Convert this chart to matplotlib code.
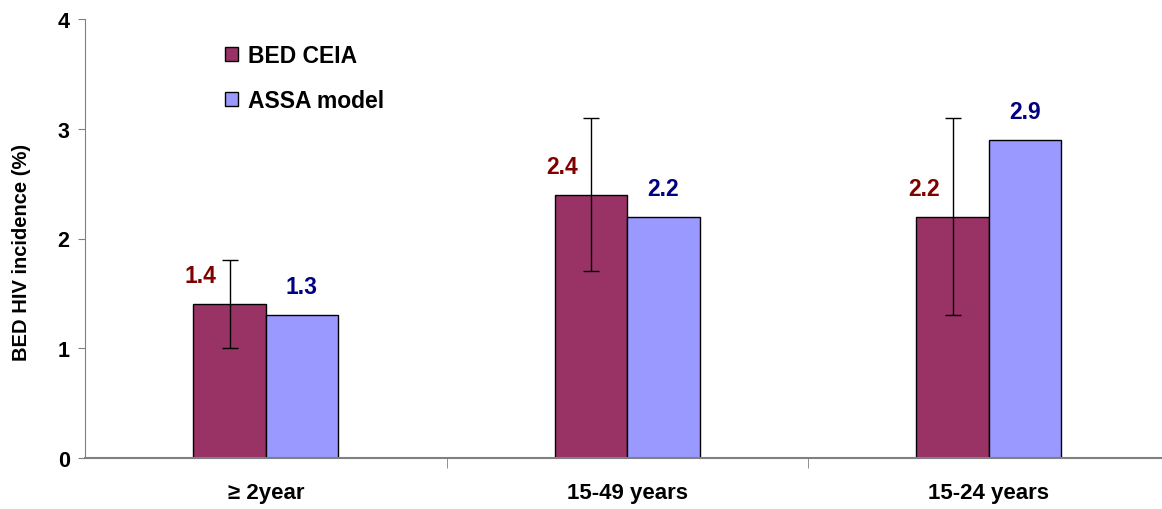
import matplotlib.pyplot as plt
import numpy as np
from matplotlib.patches import Patch

plt.rcParams['font.family'] = ['Liberation Sans', 'DejaVu Sans']
plt.rcParams['font.weight'] = 'bold'

categories = ["\u2265 2year", "15-49 years", "15-24 years"]
bed_ceia = [1.4, 2.4, 2.2]
bed_low = [1.0, 1.7, 1.3]
bed_high = [1.8, 3.1, 3.1]
assa_model = [1.3, 2.2, 2.9]

bed_color = "#993366"
assa_color = "#9999FF"

fig = plt.figure(figsize=(11.62, 5.10), dpi=100)
ax = fig.add_axes([85 / 1162, 0.1, 1 - 85 / 1162, 1 - 0.1 - 20 / 510])

x = np.arange(len(categories))
w = 0.2
ax.bar(x - w / 2, bed_ceia, w, color=bed_color, edgecolor="black", linewidth=1)
ax.bar(x + w / 2, assa_model, w, color=assa_color, edgecolor="black", linewidth=1)

bed = np.array(bed_ceia)
err = [bed - np.array(bed_low), np.array(bed_high) - bed]
ax.errorbar(x - w / 2, bed, yerr=err, fmt="none", ecolor="black",
            elinewidth=1, capsize=6, capthick=1)

for xi, v in zip(x, bed_ceia):
    ax.text(xi - w / 2 - 0.08, v + 0.26, f"{v:.1f}", ha="center", va="center",
            color="#800000", fontsize=16.5, fontweight="bold")
for xi, v in zip(x, assa_model):
    ax.text(xi + w / 2, v + 0.26, f"{v:.1f}", ha="center", va="center",
            color="#000080", fontsize=16.5, fontweight="bold")

ax.set_xlim(-0.5, -0.5 + (1162 - 85) / 361.5)
ax.set_ylim(0, 4)
ax.set_yticks([0, 1, 2, 3, 4])
ax.set_xticks(x)
ax.set_xticklabels(categories, fontsize=16, fontweight="bold")
ax.set_xticks([0.5, 1.5], minor=True)
ax.tick_params(axis="x", which="major", length=0, pad=17)
ax.tick_params(axis="x", which="minor", length=7, color="#808080")
ax.tick_params(axis="y", length=5, color="#808080", labelsize=15.5, pad=6)
for lab in ax.get_yticklabels():
    lab.set_fontweight("bold")

ax.set_ylabel("BED HIV incidence (%)", fontsize=14.5, fontweight="bold")
ax.yaxis.set_label_coords(-0.05, 0.47)

for s in ["top", "right"]:
    ax.spines[s].set_visible(False)
ax.spines["left"].set_color("#808080")
ax.spines["bottom"].set_color("#808080")
ax.spines["bottom"].set_linewidth(1.5)

handles = [Patch(facecolor=bed_color, edgecolor="black"),
           Patch(facecolor=assa_color, edgecolor="black")]
ax.legend(handles, ["BED CEIA", "ASSA model"], loc="upper left",
          bbox_to_anchor=(216 / 1162, 1 - 36 / 510), bbox_transform=fig.transFigure,
          frameon=False, handlelength=0.55, handleheight=0.55, handletextpad=0.45,
          labelspacing=0.95, prop={"size": 16.5, "weight": "bold"}, borderaxespad=0)

fig.savefig("out.png", dpi=100)
